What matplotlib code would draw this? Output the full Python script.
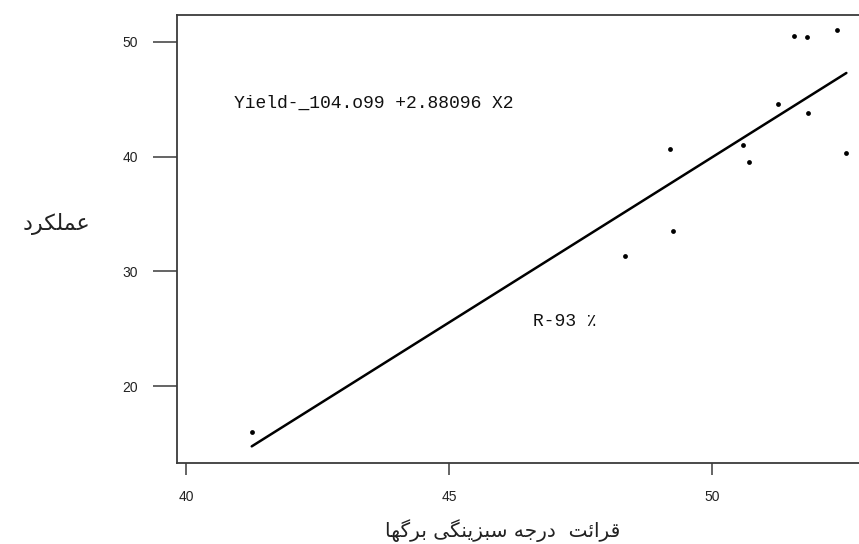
import matplotlib
matplotlib.use("Agg")
import matplotlib.pyplot as plt
import numpy as np

# ---- data ----
x_greenness = [41.25, 48.35, 49.19, 49.25, 50.58, 50.70, 51.25, 51.83, 51.56, 51.80, 52.38, 52.55]
y_yield = [16.0, 31.3, 40.7, 33.5, 41.0, 39.5, 44.6, 43.8, 50.5, 50.4, 51.0, 40.3]
intercept = -104.099
slope = 2.88096
x_ticks = [40, 45, 50]
y_ticks = [20, 30, 40, 50]
eq_text = "Yield-_104.o99 +2.88096 X2"
r_text = "R-93 \u066a"
y_label = "عملکرد"
x_label = "قرائت  درجه سبزینگی برگها"

# ---- minimal Arabic/Persian shaping (presentation forms, visual order) ----
FORMS = {
    'ا': ('\uFE8D', '\uFE8E'), 'د': ('\uFEA9', '\uFEAA'), 'ر': ('\uFEAD', '\uFEAE'),
    'ز': ('\uFEAF', '\uFEB0'),
    'ب': ('\uFE8F', '\uFE90', '\uFE91', '\uFE92'), 'ت': ('\uFE95', '\uFE96', '\uFE97', '\uFE98'),
    'ج': ('\uFE9D', '\uFE9E', '\uFE9F', '\uFEA0'), 'س': ('\uFEB1', '\uFEB2', '\uFEB3', '\uFEB4'),
    'ع': ('\uFEC9', '\uFECA', '\uFECB', '\uFECC'), 'ق': ('\uFED5', '\uFED6', '\uFED7', '\uFED8'),
    'ل': ('\uFEDD', '\uFEDE', '\uFEDF', '\uFEE0'), 'م': ('\uFEE1', '\uFEE2', '\uFEE3', '\uFEE4'),
    'ن': ('\uFEE5', '\uFEE6', '\uFEE7', '\uFEE8'), 'ه': ('\uFEE9', '\uFEEA', '\uFEEB', '\uFEEC'),
    'ئ': ('\uFE89', '\uFE8A', '\uFE8B', '\uFE8C'), 'ک': ('\uFB8E', '\uFB8F', '\uFB90', '\uFB91'),
    'گ': ('\uFB92', '\uFB93', '\uFB94', '\uFB95'), 'ی': ('\uFBFC', '\uFBFD', '\uFBFE', '\uFBFF'),
}


def shape(text):
    out = []
    n = len(text)
    for i, ch in enumerate(text):
        if ch not in FORMS:
            out.append(ch)
            continue
        prev = text[i - 1] if i > 0 else None
        nxt = text[i + 1] if i < n - 1 else None
        jp = prev in FORMS and len(FORMS[prev]) == 4
        jn = len(FORMS[ch]) == 4 and nxt in FORMS
        f = FORMS[ch]
        if jp and jn:
            out.append(f[3])
        elif jp:
            out.append(f[1])
        elif jn:
            out.append(f[2])
        else:
            out.append(f[0])
    return ''.join(reversed(out))


W, H = 859, 544
fig = plt.figure(figsize=(W / 100, H / 100), dpi=100)
ax = fig.add_axes([177 / W, (H - 463) / H, (W - 177) / W, 448 / H])

ax.scatter(x_greenness, y_yield, s=12, color='black', zorder=3, linewidths=0)
xl = np.array([min(x_greenness), max(x_greenness)])
ax.plot(xl, intercept + slope * xl, color='black', lw=1.8, solid_capstyle='round')

ax.set_xlim(39.83, 52.79)
ax.set_ylim(13.29, 52.35)
ax.set_xticks(x_ticks)
ax.set_yticks(y_ticks)
ax.set_xticklabels([str(v) for v in x_ticks])
ax.set_yticklabels([str(v) for v in y_ticks])

spine_c = '#3a3a3a'
for s in ['left', 'top', 'bottom']:
    ax.spines[s].set_color(spine_c)
    ax.spines[s].set_linewidth(1.3)
ax.spines['right'].set_visible(False)
ax.tick_params(axis='y', direction='out', length=17, width=1.1, color=spine_c, pad=11,
               labelsize=10, labelcolor='#222222')
ax.tick_params(axis='x', direction='out', length=8.5, width=1.1, color=spine_c, pad=11,
               labelsize=10, labelcolor='#222222')
for lab in ax.get_xticklabels() + ax.get_yticklabels():
    lab.set_family('Liberation Sans')

ax.text(40.91, 44.68, eq_text, family=['Liberation Mono', 'DejaVu Sans Mono'], fontsize=13,
        ha='left', va='center', color='#111111')
ax.text(46.6, 25.67, r_text, family=['Liberation Mono', 'DejaVu Sans'], fontsize=13,
        ha='left', va='center', color='#111111')

fig.text(57 / W, 1 - 224 / H, shape(y_label), family=['DejaVu Sans'], fontsize=16,
         ha='center', va='center', color='#222222')
fig.text(503 / W, 1 - 531 / H, shape(x_label), family=['DejaVu Sans'], fontsize=14.5,
         ha='center', va='center', color='#222222')

fig.savefig('out.png', dpi=100)
